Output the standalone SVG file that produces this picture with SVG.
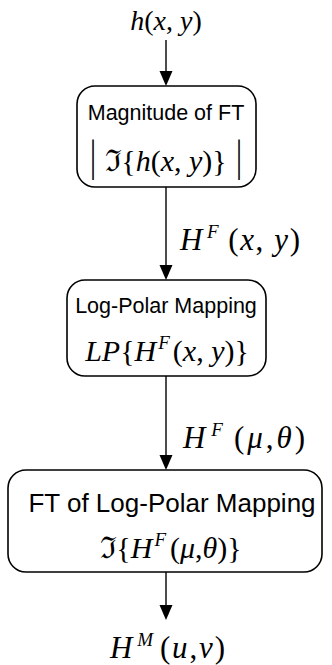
<svg xmlns="http://www.w3.org/2000/svg" width="332" height="665" viewBox="0 0 332 665">
  <defs>
    <style>
      .box { fill: #fff; stroke: #000; stroke-width: 1.6; }
      .wire { stroke: #000; stroke-width: 1.4; fill: none; }
      .head { fill: #000; }
      .title { font-family: "Liberation Sans", Arial, sans-serif; font-size: 21.5px; fill: #000; text-anchor: middle; }
      .title-lg { font-size: 26px; }
      .math { font-family: "Liberation Serif", "DejaVu Serif", serif; font-size: 30px; fill: #000; }
      .label { font-size: 31px; }
      .small { font-size: 28px; }
      .mid { text-anchor: middle; }
      .it { font-style: italic; }
      .sup { font-style: italic; font-size: 19px; }
    </style>
  </defs>
  <rect width="332" height="665" fill="#fff"/>

  <!-- connectors -->
  <g id="connectors">
    <line class="wire" x1="166" y1="40" x2="166" y2="71"/>
    <path class="head" d="M159.5,71 L172.5,71 L166,86 Z"/>
    <line class="wire" x1="166" y1="187" x2="166" y2="265"/>
    <path class="head" d="M159.5,265 L172.5,265 L166,280 Z"/>
    <line class="wire" x1="166" y1="376" x2="166" y2="455"/>
    <path class="head" d="M159.5,455 L172.5,455 L166,470 Z"/>
    <line class="wire" x1="166" y1="572" x2="166" y2="605"/>
    <path class="head" d="M159.5,605 L172.5,605 L166,620 Z"/>
  </g>

  <!-- input signal -->
  <g id="input">
    <text class="math small mid" x="166" y="30"><tspan class="it">h</tspan>(<tspan class="it">x</tspan>, <tspan class="it">y</tspan>)</text>
  </g>

  <!-- step 1: magnitude of Fourier transform -->
  <g id="magnitude">
    <rect class="box" x="77" y="86" width="179" height="101" rx="18"/>
    <text class="title" x="166" y="120">Magnitude of FT</text>
    <text class="math" transform="translate(90,171) scale(1,1.45)">|</text>
    <text class="math mid" x="166" y="171"><tspan>ℑ</tspan><tspan dx="-1">{</tspan><tspan class="it">h</tspan>(<tspan class="it">x</tspan>, <tspan class="it">y</tspan>)}</text>
    <text class="math" transform="translate(236,171) scale(1,1.45)">|</text>
  </g>

  <!-- label between step 1 and step 2 -->
  <g id="label-hf-xy">
    <text class="math label" x="180" y="250" textLength="120" lengthAdjust="spacing"><tspan class="it">H</tspan><tspan class="sup" dy="-12" dx="3">F</tspan><tspan dy="12" dx="8">(</tspan><tspan class="it">x</tspan>, <tspan class="it">y</tspan>)</text>
  </g>

  <!-- step 2: log-polar mapping -->
  <g id="logpolar">
    <rect class="box" x="67" y="280" width="199" height="96" rx="18"/>
    <text class="title" x="166" y="313">Log-Polar Mapping</text>
    <text class="math mid" x="167" y="361"><tspan class="it">LP</tspan>{<tspan class="it">H</tspan><tspan class="sup" dy="-12" dx="2">F</tspan><tspan dy="12" dx="3">(</tspan><tspan class="it">x</tspan>, <tspan class="it">y</tspan>)}</text>
  </g>

  <!-- label between step 2 and step 3 -->
  <g id="label-hf-mu-theta">
    <text class="math label" x="183" y="448" textLength="122" lengthAdjust="spacing"><tspan class="it">H</tspan><tspan class="sup" dy="-12" dx="3">F</tspan><tspan dy="12" dx="8">(</tspan><tspan class="it">μ</tspan>,<tspan class="it">θ</tspan>)</text>
  </g>

  <!-- step 3: Fourier transform of the log-polar map -->
  <g id="ft-logpolar">
    <rect class="box" x="8" y="470" width="314" height="102" rx="18"/>
    <text class="title title-lg" x="172" y="512">FT of Log-Polar Mapping</text>
    <text class="math mid" x="171" y="558"><tspan>ℑ</tspan><tspan dx="-1">{</tspan><tspan class="it">H</tspan><tspan class="sup" dy="-12" dx="2">F</tspan><tspan dy="12" dx="4">(</tspan><tspan class="it">μ</tspan>,<tspan class="it">θ</tspan>)}</text>
  </g>

  <!-- output -->
  <g id="output">
    <text class="math label" x="110" y="658" textLength="115" lengthAdjust="spacing"><tspan class="it">H</tspan><tspan class="sup" dy="-12" dx="3">M</tspan><tspan dy="12" dx="5">(</tspan><tspan class="it">u</tspan>,<tspan class="it">v</tspan>)</text>
  </g>
</svg>
